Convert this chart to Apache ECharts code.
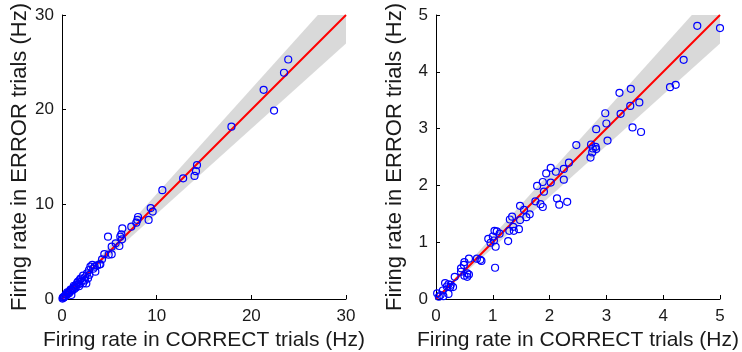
<!DOCTYPE html>
<html>
<head>
<meta charset="utf-8">
<script src="https://cdn.jsdelivr.net/npm/echarts@6/dist/echarts.min.js"></script>
<style>
  html, body { margin: 0; padding: 0; background: #fff; }
  #chart { width: 742px; height: 352px; }
</style>
</head>
<body>
<div id="chart"></div>
<script>
// left panel: [correct, error] firing rates (Hz)
var leftPoints = [
  [23.9, 25.3], [23.45, 23.9], [21.3, 22.1], [22.4, 19.9], [17.9, 18.2],
  [14.26, 14.15], [14.15, 13.5], [14.0, 13.0], [12.8, 12.75], [10.6, 11.5],
  [9.37, 9.61], [9.58, 9.23], [9.15, 8.35], [8.03, 8.66], [7.96, 8.35],
  [7.85, 8.06], [7.32, 7.64], [6.37, 7.46], [6.27, 6.83], [6.16, 6.58],
  [6.34, 6.3], [6.06, 5.6], [5.67, 5.88], [5.25, 5.53], [4.86, 6.58],
  [5.25, 4.72], [4.93, 4.68], [4.47, 4.75], [4.23, 4.19], [4.05, 3.66],
  [3.98, 3.66], [3.52, 2.89], [3.45, 3.41], [3.2, 3.6], [3.0, 3.42],
  [2.85, 3.06], [2.75, 2.18], [2.64, 2.71], [2.57, 1.65], [2.45, 2.3],
  [2.22, 2.46], [2.22, 1.65], [2.1, 1.9], [1.95, 2.15], [1.87, 2.0],
  [1.75, 1.55], [1.69, 1.83], [1.6, 1.7], [1.51, 1.48], [1.45, 1.2],
  [1.34, 1.3], [1.25, 1.4], [1.16, 1.13], [1.1, 0.9], [0.99, 0.95],
  [0.9, 1.0], [0.81, 0.77], [0.75, 0.6], [0.63, 0.6], [0.55, 0.7],
  [0.99, 0.42], [0.46, 0.42], [0.4, 0.5], [0.35, 0.3], [0.28, 0.25],
  [0.2, 0.15], [0.15, 0.2], [0.1, 0.14], [0.05, 0.05], [1.3, 1.05],
  [1.8, 1.35], [2.4, 1.95], [2.9, 2.55], [3.3, 3.2], [3.7, 3.55]
];

// right panel: [correct, error] firing rates (Hz)
var rightPoints = [
  [4.6, 4.81], [5.0, 4.77], [4.36, 4.21], [4.12, 3.73], [4.22, 3.77],
  [3.23, 3.63], [3.43, 3.7], [3.42, 3.4], [3.25, 3.26], [3.58, 3.46],
  [3.46, 3.02], [3.61, 2.94], [2.98, 3.27], [3.0, 3.09], [2.82, 2.99],
  [3.02, 2.79], [2.47, 2.71], [2.73, 2.72], [2.76, 2.65], [2.81, 2.68],
  [2.82, 2.64], [2.75, 2.58], [2.72, 2.49], [2.34, 2.4], [2.25, 2.29],
  [2.02, 2.31], [2.11, 2.24], [1.94, 2.21], [2.25, 2.1], [1.88, 2.06],
  [2.02, 2.05], [1.78, 1.99], [1.9, 1.89], [2.13, 1.77], [2.31, 1.71],
  [2.17, 1.66], [1.75, 1.72], [1.84, 1.67], [1.88, 1.62], [1.48, 1.64],
  [1.55, 1.57], [1.65, 1.49], [1.59, 1.44], [1.48, 1.39], [1.34, 1.45],
  [1.3, 1.4], [1.36, 1.27], [1.29, 1.2], [1.37, 1.2], [1.46, 1.23],
  [1.27, 1.02], [1.03, 1.2], [1.07, 1.19], [1.12, 1.15], [1.0, 1.1],
  [0.92, 1.06], [0.96, 0.99], [1.02, 1.03], [1.05, 0.92], [1.04, 0.55],
  [0.72, 0.71], [0.78, 0.69], [0.8, 0.67], [0.58, 0.71], [0.5, 0.65],
  [0.49, 0.6], [0.44, 0.54], [0.44, 0.48], [0.55, 0.45], [0.58, 0.43],
  [0.5, 0.41], [0.55, 0.39], [0.33, 0.39], [0.16, 0.28], [0.22, 0.26],
  [0.26, 0.25], [0.3, 0.21], [0.25, 0.21], [0.19, 0.22], [0.12, 0.15],
  [0.22, 0.09], [0.08, 0.07], [0.02, 0.1], [0.05, 0.04], [0.13, 0.05]
];

// identity line and confidence band (lower / upper edge at the band x values)
var leftLine = [[0, 0], [30, 30]];
var rightLine = [[0, 0], [5, 5]];
var leftBandX = [0, 30];
var leftBandLow = [0, 27];
var leftBandHigh = [0, 33.3];
var rightBandX = [0, 5];
var rightBandLow = [0, 4.5];
var rightBandHigh = [0, 5.55];

var leftTicks = [0, 10, 20, 30];
var rightTicks = [0, 1, 2, 3, 4, 5];

var fontFam = '"Liberation Sans", Arial, sans-serif';

function bandSeries(idx, xs, lo, hi) {
    return {
        type: 'custom',
        xAxisIndex: idx,
        yAxisIndex: idx,
        clip: true,
        silent: true,
        z: 1,
        data: [0],
        renderItem: function (params, api) {
            var pts = [];
            for (var i = 0; i < xs.length; i++) pts.push(api.coord([xs[i], lo[i]]));
            for (var j = xs.length - 1; j >= 0; j--) pts.push(api.coord([xs[j], hi[j]]));
            return {
                type: 'polygon',
                shape: { points: pts },
                style: { fill: '#d9d9d9' }
            };
        }
    };
}

function xAxis(idx, ticks) {
    var max = ticks[ticks.length - 1];
    return {
        type: 'value',
        gridIndex: idx,
        min: 0,
        max: max,
        interval: ticks[1] - ticks[0],
        name: 'Firing rate in CORRECT trials (Hz)',
        nameLocation: 'middle',
        nameGap: 31,
        nameTextStyle: { fontSize: 21, color: '#1a1a1a', fontFamily: fontFam },
        axisLine: { show: true, lineStyle: { color: '#000', width: 1 } },
        axisTick: { show: true, inside: true, length: 4, lineStyle: { color: '#000' } },
        axisLabel: { fontSize: 17, color: '#1a1a1a', margin: 9, fontFamily: fontFam },
        splitLine: { show: false }
    };
}

function yAxis(idx, ticks) {
    var max = ticks[ticks.length - 1];
    return {
        type: 'value',
        gridIndex: idx,
        min: 0,
        max: max,
        interval: ticks[1] - ticks[0],
        name: 'Firing rate in ERROR trials (Hz)',
        nameLocation: 'middle',
        nameGap: 30,
        nameTextStyle: { fontSize: 22, color: '#1a1a1a', fontFamily: fontFam },
        axisLine: { show: true, lineStyle: { color: '#000', width: 1 } },
        axisTick: { show: true, inside: true, length: 4, lineStyle: { color: '#000' } },
        axisLabel: { fontSize: 17, color: '#1a1a1a', margin: 8, fontFamily: fontFam },
        splitLine: { show: false }
    };
}

function scatterSeries(idx, pts) {
    return {
        type: 'scatter',
        xAxisIndex: idx,
        yAxisIndex: idx,
        symbol: 'circle',
        symbolSize: 7,
        z: 3,
        itemStyle: { color: 'rgba(0,0,0,0)', borderColor: '#0000ff', borderWidth: 1.2, opacity: 1 },
        data: pts
    };
}

function lineSeries(idx, pts) {
    return {
        type: 'line',
        xAxisIndex: idx,
        yAxisIndex: idx,
        symbol: 'none',
        z: 2,
        lineStyle: { color: '#ff0000', width: 2 },
        data: pts
    };
}

var option = {
    animation: false,
    backgroundColor: '#fff',
    grid: [
        { left: 62, top: 15, width: 284, height: 284, outerBoundsMode: 'none' },
        { left: 436, top: 15, width: 284, height: 284, outerBoundsMode: 'none' }
    ],
    xAxis: [xAxis(0, leftTicks), xAxis(1, rightTicks)],
    yAxis: [yAxis(0, leftTicks), yAxis(1, rightTicks)],
    series: [
        bandSeries(0, leftBandX, leftBandLow, leftBandHigh),
        lineSeries(0, leftLine),
        scatterSeries(0, leftPoints),
        bandSeries(1, rightBandX, rightBandLow, rightBandHigh),
        lineSeries(1, rightLine),
        scatterSeries(1, rightPoints)
    ]
};

var chart = echarts.init(document.getElementById('chart'));
chart.setOption(option);
</script>
</body>
</html>
